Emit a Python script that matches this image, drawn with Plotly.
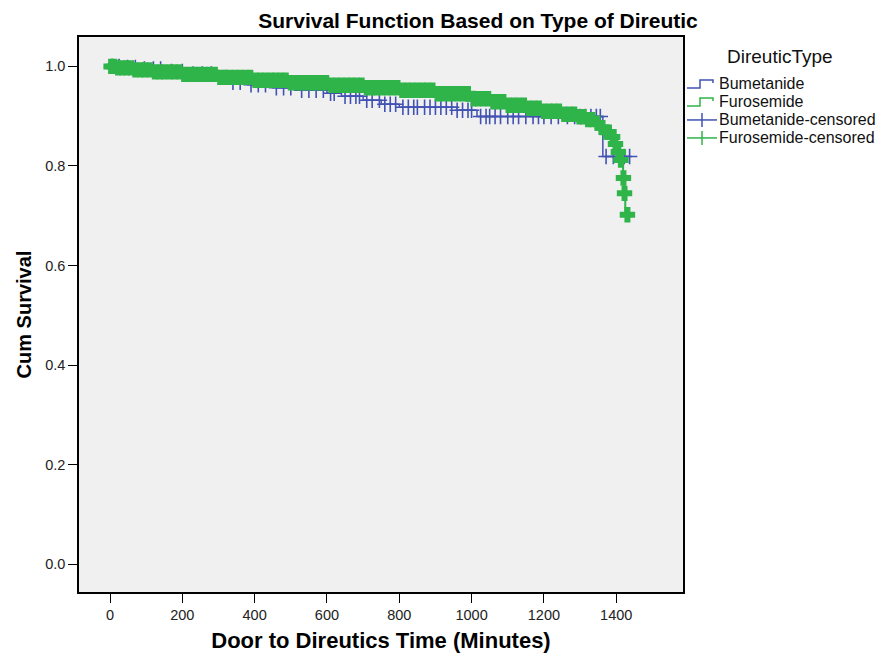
import numpy as np
import plotly.graph_objects as go

# Kaplan-Meier step points (time in minutes, cumulative survival)
furo_time = [0, 20, 60, 120, 200, 300, 400, 500, 600, 700, 800, 900, 1000, 1050,
             1100, 1150, 1200, 1250, 1290, 1320, 1345, 1360, 1372, 1383, 1393,
             1403, 1411, 1419, 1422, 1425]
furo_surv = [1.0, 0.997, 0.993, 0.989, 0.984, 0.978, 0.972, 0.967, 0.962, 0.957,
             0.952, 0.945, 0.935, 0.929, 0.922, 0.916, 0.910, 0.904, 0.899, 0.893,
             0.886, 0.877, 0.868, 0.858, 0.844, 0.828, 0.812, 0.776, 0.745, 0.702]

bume_time = [0, 30, 80, 150, 220, 290, 330, 380, 450, 520, 600, 640, 700, 750,
             800, 960, 1015, 1363]
bume_surv = [1.0, 0.998, 0.995, 0.990, 0.985, 0.978, 0.968, 0.963, 0.957, 0.952,
             0.946, 0.940, 0.932, 0.924, 0.918, 0.912, 0.8995, 0.819]

# censored observation times
furo_cens = [3, 12, 22, 34, 45, 58, 70, 84, 96, 110, 124, 138, 150, 165, 178, 192,
             205, 220, 234, 248, 262, 276, 290, 305, 318, 332, 346, 360, 375, 388,
             402, 416, 430, 445, 458, 472, 486, 500, 515, 528, 542, 556, 570, 585,
             598, 612, 626, 640, 655, 668, 682, 696, 710, 725, 738, 752, 766, 780,
             795, 808, 822, 836, 850, 865, 878, 892, 906, 920, 935, 948, 962, 976,
             990, 1005, 1018, 1032, 1046, 1060, 1075, 1088, 1102, 1116, 1130, 1145,
             1158, 1172, 1186, 1200, 1215, 1228, 1242, 1256, 1270, 1284, 1298, 1310,
             1322, 1334, 1348, 1362, 1372, 1380, 1390, 1398, 1406, 1413, 1420, 1423,
             1431]
bume_cens = [5, 25, 48, 70, 95, 120, 140, 170, 200, 230, 255, 280, 300, 320, 340,
             360, 390, 410, 430, 460, 480, 500, 530, 550, 570, 590, 610, 620, 650,
             665, 680, 690, 710, 725, 745, 760, 775, 790, 810, 825, 840, 850, 870,
             885, 900, 915, 930, 945, 960, 975, 990, 1000, 1025, 1040, 1050, 1065,
             1080, 1100, 1115, 1130, 1150, 1170, 1185, 1200, 1220, 1240, 1265, 1285,
             1300, 1315, 1330, 1345, 1356, 1372, 1392, 1410, 1422, 1437]

legend_title = "DireuticType"
legend_labels = ["Bumetanide", "Furosemide", "Bumetanide-censored", "Furosemide-censored"]


def km_at(times, surv, t):
    idx = np.searchsorted(np.array(times), np.array(t), side="right") - 1
    return np.array(surv)[idx]


BLUE = "#4152b3"
GREEN = "#2fb44a"
FONT = "Arial, Liberation Sans, sans-serif"

fig = go.Figure()
fig.add_trace(go.Scatter(x=bume_time + [1437], y=bume_surv + [bume_surv[-1]],
                         mode="lines", line=dict(color=BLUE, width=1.5, shape="hv"),
                         name=legend_labels[0], showlegend=False))
fig.add_trace(go.Scatter(x=bume_cens, y=km_at(bume_time, bume_surv, bume_cens),
                         mode="markers",
                         marker=dict(symbol="cross-thin", size=11,
                                     line=dict(color=BLUE, width=1.6)),
                         name=legend_labels[2], showlegend=False))
fig.add_trace(go.Scatter(x=furo_time + [1431], y=furo_surv + [furo_surv[-1]],
                         mode="lines", line=dict(color=GREEN, width=2, shape="hv"),
                         name=legend_labels[1], showlegend=False))
fig.add_trace(go.Scatter(x=furo_cens, y=km_at(furo_time, furo_surv, furo_cens),
                         mode="markers",
                         marker=dict(symbol="cross-thin", size=11,
                                     line=dict(color=GREEN, width=6)),
                         name=legend_labels[3], showlegend=False))

# --- legend drawn in paper coordinates (plot area: 79..683 px, 37..592 px)
PL, PW, PB, PH = 79, 604, 592.3, 555.3


def px(xp):
    return (xp - PL) / PW


def py(yp):
    return (PB - yp) / PH


shapes = []
annotations = [dict(text=legend_title, x=px(780), y=py(57), xref="paper", yref="paper",
                    showarrow=False, xanchor="center", yanchor="middle",
                    font=dict(family=FONT, size=19, color="#111111"))]
rows = [84, 102, 120, 138]
cols = [BLUE, GREEN, BLUE, GREEN]
for i, (lab, yc, c) in enumerate(zip(legend_labels, rows, cols)):
    annotations.append(dict(text=lab, x=px(717), y=py(yc), xref="paper", yref="paper",
                            showarrow=False, xanchor="left", yanchor="middle",
                            font=dict(family=FONT, size=16, color="#111111")))
    if i < 2:
        path = (f"M {px(687)},{py(yc + 4)} L {px(700)},{py(yc + 4)} "
                f"L {px(700)},{py(yc - 4)} L {px(713)},{py(yc - 4)} "
                f"L {px(713)},{py(yc - 1)}")
        shapes.append(dict(type="path", path=path, xref="paper", yref="paper",
                           line=dict(color=c, width=1.5)))
    else:
        shapes.append(dict(type="line", xref="paper", yref="paper",
                           x0=px(687), x1=px(717), y0=py(yc), y1=py(yc),
                           line=dict(color=c, width=1.5)))
        shapes.append(dict(type="line", xref="paper", yref="paper",
                           x0=px(702), x1=px(702), y0=py(yc - 7), y1=py(yc + 7),
                           line=dict(color=c, width=1.5)))

fig.update_layout(
    width=884, height=654,
    margin=dict(l=79, r=201, t=37, b=62),
    paper_bgcolor="white", plot_bgcolor="#f0f0f0",
    font=dict(family=FONT, color="#222222", size=14),
    title=dict(text="<b>Survival Function Based on Type of Direutic</b>",
               x=478 / 884, xanchor="center", y=1 - 21 / 654, yanchor="middle",
               font=dict(size=21, color="black")),
    showlegend=False,
    shapes=shapes, annotations=annotations,
)
fig.update_xaxes(range=[-85.8, 1584.7], tickvals=[0, 200, 400, 600, 800, 1000, 1200, 1400],
                 showgrid=False, zeroline=False, showline=True, linecolor="black",
                 linewidth=1.5, mirror=True, ticks="outside", ticklen=9,
                 tickcolor="black", tickfont=dict(size=14.5), automargin=False,
                 title=dict(text="<b>Door to Direutics Time (Minutes)</b>",
                            font=dict(size=22, color="black"), standoff=10))
fig.update_yaxes(range=[-0.0555, 1.059], tickvals=[0, 0.2, 0.4, 0.6, 0.8, 1.0],
                 tickformat=".1f", showgrid=False, zeroline=False, showline=True,
                 linecolor="black", linewidth=1.5, mirror=True, ticks="outside",
                 ticklen=9, tickcolor="black", tickfont=dict(size=14.5),
                 automargin=False,
                 title=dict(text="<b>Cum Survival</b>",
                            font=dict(size=20, color="black"), standoff=8))

fig.write_html("out.html", config={"displayModeBar": False},
               post_script="document.body.style.margin='0';")
